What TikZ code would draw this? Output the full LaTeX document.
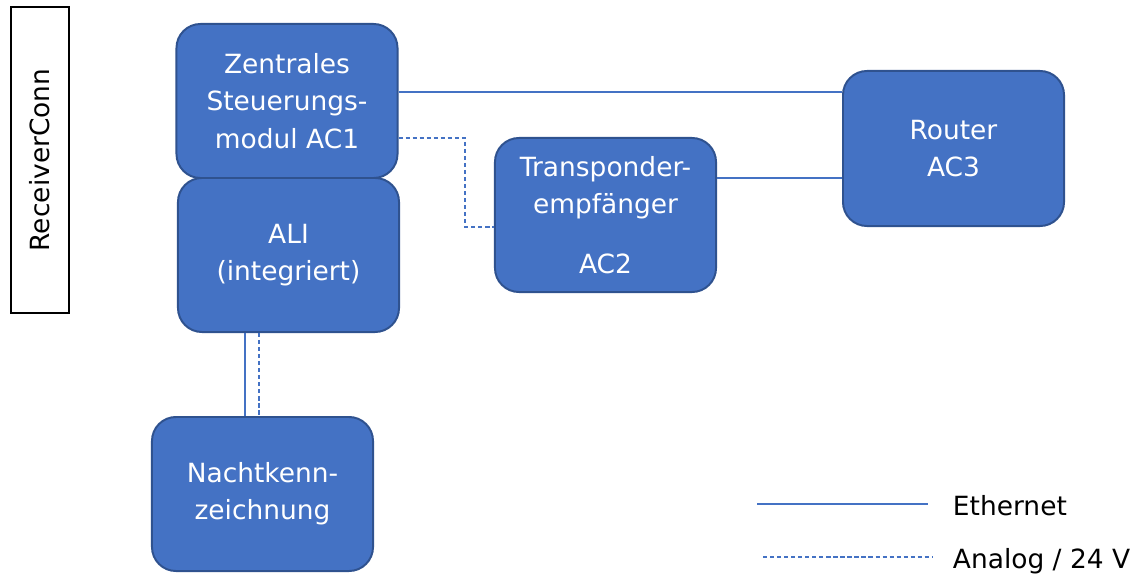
\documentclass[tikz,border=0pt]{standalone}
\usepackage{fontspec}
\setmainfont{DejaVu Sans}
\definecolor{boxfill}{HTML}{4472C4}
\definecolor{boxline}{HTML}{2F528F}
\definecolor{wire}{HTML}{4472C4}

\begin{document}
\begin{tikzpicture}
    [x=0.025cm,y=-0.025cm,
     box/.style={rectangle,rounded corners=0.6cm,fill=boxfill,draw=boxline,line width=1.4pt,
       minimum width=5.525cm,minimum height=3.85cm,align=center,text=white,
       font=\fontsize{18.8}{26.5}\selectfont},
     eth/.style={draw=wire,line width=0.9pt},
     ana/.style={draw=wire,line width=0.9pt,dash pattern=on 3pt off 2pt},
     legend/.style={anchor=west,font=\fontsize{18.8}{26.5}\selectfont}]
    \useasboundingbox (0,0) rectangle (1142,573);

    \node[draw,line width=1.4pt,minimum width=1.45cm,minimum height=7.65cm] (recv) at (40,160) {};
    \node[rotate=90,font=\fontsize{18.8}{26.5}\selectfont] (recvtext) at (recv.center) {ReceiverConn};

    \node[box] (ac1) at (287,101) {Zentrales\\Steuerungs-\\modul AC1};
    \node[box] (ali) at (288.5,255) {ALI\\(integriert)};
    \node[box] (trans) at (605.5,215) {Transponder-\\empfänger\\[0.55cm]AC2};
    \node[box,minimum height=3.875cm] (router) at (953.5,148.5) {Router\\AC3};
    \node[box] (nacht) at (262.5,494) {Nachtkenn-\\zeichnung};

    \draw[eth] (ac1.east |- 0,92) -- (router.west |- 0,92);
    \draw[ana] (ac1.east |- 0,138) -- (465,138) |- (trans.west |- 0,227);
    \draw[eth] (trans.east |- 0,178) -- (router.west |- 0,178);
    \draw[eth] (ali.south -| 245,0) -- (nacht.north -| 245,0);
    \draw[ana] (ali.south -| 259,0) -- (nacht.north -| 259,0);

    % legend
    \coordinate (eth1) at (757,504);
    \coordinate (eth2) at (928,504);
    \coordinate (ana1) at (763,557);
    \coordinate (ana2) at (933,557);
    \draw[eth] (eth1) -- (eth2);
    \draw[ana] (ana1) -- (ana2);
    \node[legend] (ethtext) at (948,506) {Ethernet};
    \node[legend] (anatext) at (948,561) {Analog / 24 V};
\end{tikzpicture}
\end{document}
